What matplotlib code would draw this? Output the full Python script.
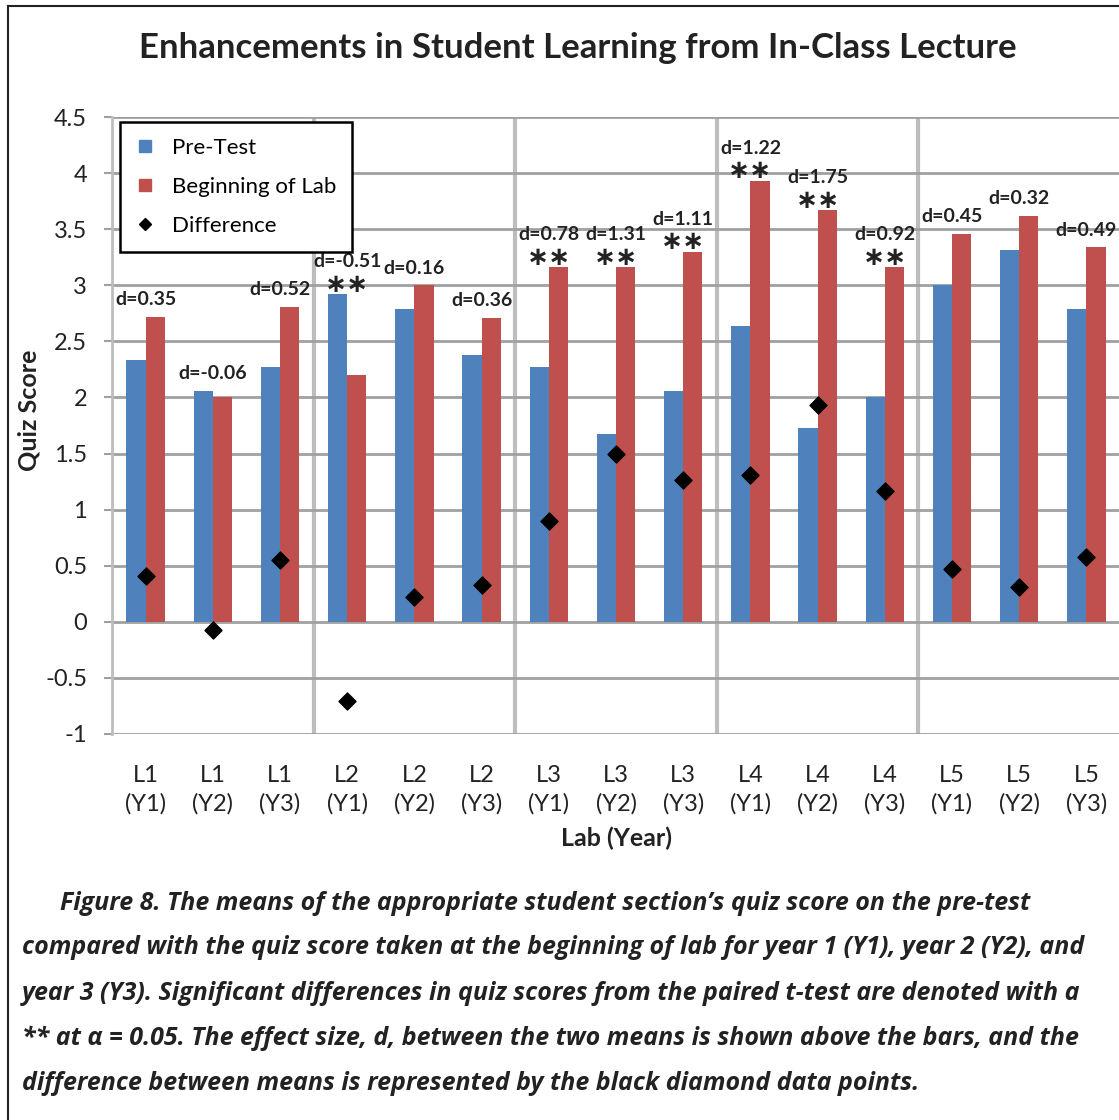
import matplotlib
matplotlib.use("Agg")
import matplotlib.pyplot as plt
import numpy as np
from matplotlib.lines import Line2D

# data
labs = ["L1", "L1", "L1", "L2", "L2", "L2", "L3", "L3", "L3",
        "L4", "L4", "L4", "L5", "L5", "L5"]
years = ["Y1", "Y2", "Y3"] * 5
pre_test = [2.33, 2.06, 2.27, 2.92, 2.79, 2.38, 2.27, 1.67, 2.06,
            2.64, 1.73, 2.00, 3.00, 3.31, 2.79]
beginning_of_lab = [2.72, 2.00, 2.81, 2.20, 3.00, 2.71, 3.16, 3.16, 3.30,
                    3.93, 3.67, 3.16, 3.46, 3.62, 3.34]
difference = [0.41, -0.07, 0.55, -0.71, 0.22, 0.33, 0.90, 1.50, 1.26,
              1.31, 1.93, 1.17, 0.47, 0.31, 0.58]
effect_size = ["0.35", "-0.06", "0.52", "-0.51", "0.16", "0.36", "0.78", "1.31", "1.11",
               "1.22", "1.75", "0.92", "0.45", "0.32", "0.49"]
significant = [False, False, False, True, False, False, True, True, True,
               True, True, True, False, False, False]

caption_lines = [
    "Figure 8. The means of the appropriate student section\u2019s quiz score on the pre-test",
    "compared with the quiz score taken at the beginning of lab for year 1 (Y1), year 2 (Y2), and",
    "year 3 (Y3). Significant differences in quiz scores from the paired t-test are denoted with a",
    "** at \u03b1 = 0.05. The effect size, d, between the two means is shown above the bars, and the",
    "difference between means is represented by the black diamond data points.",
]

BLUE = "#4F81BD"
RED = "#C0504D"
GRID = "#A0A0A0"
W, H = 1119, 1120

plt.rcParams["font.family"] = ["Lato", "DejaVu Sans"]

fig = plt.figure(figsize=(W / 100, H / 100), dpi=100)
ax = fig.add_axes([112 / W, 1 - 734 / H, 1008 / W, 617 / H])

x = np.arange(len(labs))
bw = 0.285
ax.bar(x - bw / 2, pre_test, bw, color=BLUE, zorder=3, label="Pre-Test")
ax.bar(x + bw / 2, beginning_of_lab, bw, color=RED, zorder=3, label="Beginning of Lab")
ax.scatter(x, difference, marker="D", s=75, color="black", zorder=4, label="Difference")

# effect size labels and significance stars
for i in range(len(x)):
    top = max(pre_test[i], beginning_of_lab[i])
    if significant[i]:
        ax.text(x[i], top + 0.085, "\u2217\u2217", ha="center", va="center",
                fontsize=19, fontweight="bold", family="DejaVu Sans", color="#222", zorder=5)
        ax.text(x[i], top + 0.29, "d=" + effect_size[i], ha="center", va="center",
                fontsize=14, fontweight="bold", color="#222", zorder=5)
    else:
        ax.text(x[i], top + 0.15, "d=" + effect_size[i], ha="center", va="center",
                fontsize=14, fontweight="bold", color="#222", zorder=5)

ax.set_xlim(-0.5, len(x) - 0.5)
ax.set_ylim(-1, 4.5)
ax.set_yticks(np.arange(-1, 4.51, 0.5))
ax.set_yticklabels(["-1", "-0.5", "0", "0.5", "1", "1.5", "2", "2.5", "3", "3.5", "4", "4.5"])
ax.set_xticks(x)
ax.set_xticklabels([f"{l}\n({y})" for l, y in zip(labs, years)], linespacing=1.45)

ax.yaxis.grid(True, color=GRID, linewidth=2, zorder=0)
for b in [2.5, 5.5, 8.5, 11.5]:
    ax.axvline(b, color="#BDBDBD", linewidth=3, zorder=1)

for s in ["top", "right", "bottom"]:
    ax.spines[s].set_visible(False)
ax.spines["left"].set_color("#BDBDBD")
ax.spines["left"].set_linewidth(2)
ax.tick_params(axis="y", length=6, width=1.5, color=GRID, pad=12, labelsize=17, labelcolor="#222")
ax.tick_params(axis="x", length=0, pad=22, labelsize=17, labelcolor="#222")

ax.set_ylabel("Quiz Score", fontsize=18, fontweight="bold", color="#222")
ax.yaxis.set_label_coords(-0.071, 0.525)
ax.set_xlabel("Lab (Year)", fontsize=18, fontweight="bold", color="#222", labelpad=8)

handles = [
    Line2D([], [], marker="s", linestyle="none", color=BLUE, markersize=9),
    Line2D([], [], marker="s", linestyle="none", color=RED, markersize=9),
    Line2D([], [], marker="D", linestyle="none", color="black", markersize=6),
]
leg = ax.legend(handles, ["Pre-Test", "Beginning of Lab", "Difference"],
                loc="upper left", bbox_to_anchor=(0.008, 0.992), borderaxespad=0,
                fontsize=16, frameon=True, fancybox=False, handlelength=0.8,
                handletextpad=0.8, labelspacing=0.85, borderpad=0.72)
leg.get_frame().set_edgecolor("black")
leg.get_frame().set_linewidth(1.8)
leg.get_frame().set_alpha(1)
leg.set_zorder(6)

fig.text(578 / W, 1 - 48 / H, "Enhancements in Student Learning from In-Class Lecture",
         ha="center", va="center", fontsize=25, fontweight="bold", color="#222")

# caption below the chart
cap_y = [903, 948, 993, 1038, 1083]
for k, line in enumerate(caption_lines):
    x0 = 60 if k == 0 else 22
    fig.text(x0 / W, 1 - cap_y[k] / H, line, ha="left", va="center",
             fontsize=18, fontweight="bold", fontstyle="italic",
             family=["Open Sans", "DejaVu Sans"], color="#222")

# outer frame (left and top edges)
fig.add_artist(Line2D([8 / W, 8 / W], [0, 1 - 6 / H], transform=fig.transFigure,
                      color="#222", linewidth=1.5))
fig.add_artist(Line2D([8 / W, 1], [1 - 6 / H, 1 - 6 / H], transform=fig.transFigure,
                      color="#222", linewidth=1.5))

fig.savefig("out.png", dpi=100)
